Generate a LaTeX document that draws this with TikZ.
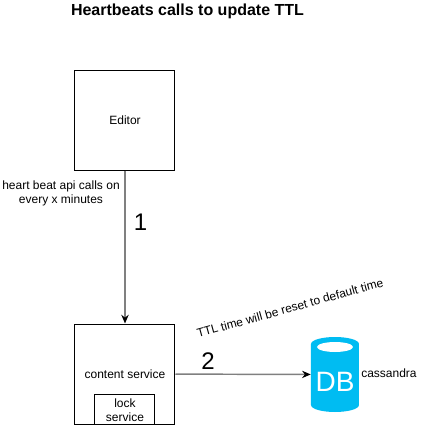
\documentclass[tikz,border=0pt]{standalone}
\usepackage{fontspec}
\setmainfont{Liberation Sans}
\usetikzlibrary{arrows.meta,positioning}
\definecolor{dbBlue}{RGB}{0,188,242}

\begin{document}
\begin{tikzpicture}[x=0.75pt,y=-0.75pt,
    box/.style={draw=black, fill=white, line width=0.75pt, inner sep=0pt, align=center, font=\fontsize{9}{10.5}\selectfont},
    label/.style={font=\fontsize{9}{10.5}\selectfont, align=center, inner sep=0pt},
    stepnum/.style={font=\fontsize{18}{20}\selectfont, inner sep=0pt},
    link/.style={-{Stealth[length=6.5pt,width=5.5pt,black]}, line width=1.1pt, draw=black!50},
    >=Stealth
  ]
  \useasboundingbox (0,0) rectangle (430,425);
  \node[font=\bfseries\fontsize{12}{14}\selectfont, inner sep=0pt] (title) at (187.5,11) {Heartbeats calls to update TTL};
  \node[box, minimum width=75pt, minimum height=75pt] (editor) at (125,120) {Editor};
  \node[box, minimum width=75pt, minimum height=75pt] (content) at (125,374) {content service};
  \node[box, minimum width=45pt, minimum height=22.5pt] (lock) at (125,409) {\rule{0pt}{8pt}lock\\service};
  % cylinder body
  \fill[dbBlue] (311,344) .. controls (311,340) and (322,337) .. (335,337) .. controls (348,337) and (359,340) .. (359,344) -- (359,405) .. controls (359,409) and (348,412) .. (335,412) .. controls (322,412) and (311,409) .. (311,405) -- cycle;
  \fill[white] (335,347) ellipse [x radius=18, y radius=5];
  \node[minimum width=36pt, minimum height=56pt, inner sep=0pt] (db) at (335,374.5) {};
  \node[text=white, font=\fontsize{21}{24}\selectfont, inner sep=0pt] (dbtext) at (335,382) {DB};
  \node[label, anchor=west] (cassandra) at (361,373) {cassandra};
  \node[label] (calls) at (61,193) {heart beat api calls on\\every x minutes};
  \node[stepnum] (one) at (140.5,222.5) {1};
  \node[stepnum] (two) at (208,361.5) {2};
  \node[label, rotate=15.5] (ttl) at (290,308) {TTL time will be reset to default time};
  \draw[link] (editor) -- (content);
  \draw[link] (content) -- (db);
\end{tikzpicture}
\end{document}
